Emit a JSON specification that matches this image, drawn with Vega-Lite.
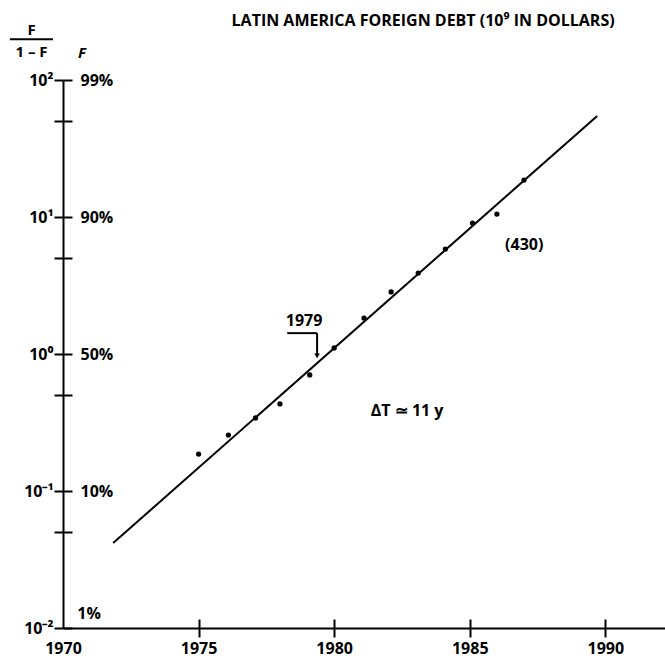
{
  "$schema": "https://vega.github.io/schema/vega-lite/v6.json",
  "width": 602,
  "height": 548,
  "autosize": {"type": "none"},
  "padding": {"left": 63, "top": 80, "right": 0, "bottom": 34},
  "background": "white",
  "config": {
    "view": {"stroke": null},
    "font": "Open Sans",
    "text": {"font": "Open Sans", "fontWeight": "bold", "fontSize": 15, "color": "black"}
  },
  "datasets": {
    "debt": [
      {"year": 1975.0, "value": 0.186},
      {"year": 1976.1, "value": 0.256},
      {"year": 1977.1, "value": 0.341},
      {"year": 1978.0, "value": 0.432},
      {"year": 1979.1, "value": 0.703},
      {"year": 1980.0, "value": 1.107},
      {"year": 1981.1, "value": 1.83},
      {"year": 1982.1, "value": 2.84},
      {"year": 1983.1, "value": 3.9},
      {"year": 1984.1, "value": 5.83},
      {"year": 1985.1, "value": 9.03},
      {"year": 1986.0, "value": 10.5},
      {"year": 1987.0, "value": 18.6}
    ],
    "fit": [
      {"year": 1971.85, "value": 0.0417},
      {"year": 1989.7, "value": 54.6}
    ],
    "one": [{}]
  },
  "layer": [
    {
      "data": {"name": "debt"},
      "mark": {"type": "circle", "size": 28, "color": "black", "opacity": 1},
      "encoding": {
        "x": {
          "field": "year", "type": "quantitative",
          "scale": {"domain": [1970, 1992.2], "nice": false, "zero": false},
          "axis": {
            "orient": "bottom", "values": [1970, 1975, 1980, 1985, 1990], "format": "d",
            "title": null, "grid": false,
            "domainColor": "black", "domainWidth": 2,
            "tickColor": "black", "tickWidth": 2, "tickSize": 9,
            "tickOpacity": {"condition": {"test": "datum.value == 1970", "value": 0}, "value": 1},
            "labelFontSize": 16, "labelFontWeight": "bold", "labelColor": "black", "labelFont": "Open Sans",
            "labelPadding": 3, "labelFlush": false, "labelOverlap": false
          }
        },
        "y": {
          "field": "value", "type": "quantitative",
          "scale": {"type": "log", "domain": [0.01, 100], "nice": false},
          "axis": {
            "orient": "left", "values": [0.01, 0.05, 0.1, 0.5, 1, 5, 10, 50, 100],
            "labelExpr": "datum.value == 100 ? '10²' : datum.value == 10 ? '10¹' : datum.value == 1 ? '10⁰' : datum.value == 0.1 ? '10⁻¹' : datum.value == 0.01 ? '10⁻²' : ''",
            "title": null, "grid": false,
            "domainColor": "black", "domainWidth": 2,
            "tickColor": "black", "tickWidth": 2, "tickSize": 9,
            "labelFontSize": 16, "labelFontWeight": "bold", "labelColor": "black", "labelFont": "Open Sans",
            "labelPadding": 1, "labelFlush": false, "labelOverlap": false
          }
        }
      }
    },
    {
      "data": {"name": "fit"},
      "mark": {"type": "line", "color": "black", "strokeWidth": 2},
      "encoding": {
        "x": {
          "field": "year", "type": "quantitative",
          "scale": {"domain": [1970, 1992.2], "nice": false, "zero": false},
          "axis": {
            "orient": "bottom", "offset": -9, "values": [1975, 1980, 1985, 1990],
            "labels": false, "domain": false, "title": null, "grid": false,
            "tickColor": "black", "tickWidth": 2, "tickSize": 9
          }
        },
        "y": {
          "field": "value", "type": "quantitative",
          "scale": {"type": "log", "domain": [0.01, 100], "nice": false},
          "axis": {
            "orient": "left", "offset": -9, "values": [0.01, 0.05, 0.1, 0.5, 1, 5, 10, 50, 100],
            "labelExpr": "datum.value == 100 ? '99%' : datum.value == 10 ? '90%' : datum.value == 1 ? '50%' : datum.value == 0.1 ? '10%' : ''",
            "labelAlign": "left", "labelPadding": -17,
            "domain": false, "title": null, "grid": false,
            "tickColor": "black", "tickWidth": 2, "tickSize": 9,
            "labelFontSize": 16, "labelFontWeight": "bold", "labelColor": "black", "labelFont": "Open Sans",
            "labelFlush": false, "labelOverlap": false
          }
        }
      }
    },
    {
      "data": {"name": "one"},
      "mark": {"type": "text", "text": "LATIN AMERICA FOREIGN DEBT (10⁹ IN DOLLARS)", "align": "center", "baseline": "middle", "fontSize": 16},
      "encoding": {
        "x": {"datum": 1983.28, "type": "quantitative", "axis": null},
        "y": {"datum": 270, "type": "quantitative", "axis": null}
      }
    },
    {
      "data": {"name": "one"},
      "mark": {"type": "text", "text": "1%", "align": "center", "baseline": "middle", "fontSize": 16},
      "encoding": {
        "x": {"datum": 1970.96, "type": "quantitative", "axis": null},
        "y": {"datum": 0.01265, "type": "quantitative", "axis": null}
      }
    },
    {
      "data": {"name": "one"},
      "mark": {"type": "text", "text": "F", "align": "center", "baseline": "middle"},
      "encoding": {
        "x": {"datum": 1968.84, "type": "quantitative", "axis": null},
        "y": {"datum": 232, "type": "quantitative", "axis": null}
      }
    },
    {
      "data": {"name": "one"},
      "mark": {"type": "rule", "color": "black", "strokeWidth": 2},
      "encoding": {
        "x": {"datum": 1968.04, "type": "quantitative", "axis": null},
        "x2": {"datum": 1969.63},
        "y": {"datum": 198, "type": "quantitative", "axis": null}
      }
    },
    {
      "data": {"name": "one"},
      "mark": {"type": "text", "text": "1 – F", "align": "center", "baseline": "middle"},
      "encoding": {
        "x": {"datum": 1968.84, "type": "quantitative", "axis": null},
        "y": {"datum": 160, "type": "quantitative", "axis": null}
      }
    },
    {
      "data": {"name": "one"},
      "mark": {"type": "text", "text": "F", "align": "center", "baseline": "middle", "fontStyle": "italic"},
      "encoding": {
        "x": {"datum": 1970.7, "type": "quantitative", "axis": null},
        "y": {"datum": 157, "type": "quantitative", "axis": null}
      }
    },
    {
      "data": {"name": "one"},
      "mark": {"type": "text", "text": "1979", "align": "center", "baseline": "middle", "fontSize": 16},
      "encoding": {
        "x": {"datum": 1978.89, "type": "quantitative", "axis": null},
        "y": {"datum": 1.74, "type": "quantitative", "axis": null}
      }
    },
    {
      "data": {"name": "one"},
      "mark": {"type": "rule", "color": "black", "strokeWidth": 2},
      "encoding": {
        "x": {"datum": 1978.27, "type": "quantitative", "axis": null},
        "x2": {"datum": 1979.37},
        "y": {"datum": 1.42, "type": "quantitative", "axis": null}
      }
    },
    {
      "data": {"name": "one"},
      "mark": {"type": "rule", "color": "black", "strokeWidth": 2},
      "encoding": {
        "x": {"datum": 1979.37, "type": "quantitative", "axis": null},
        "y": {"datum": 1.42, "type": "quantitative", "axis": null},
        "y2": {"datum": 1.0}
      }
    },
    {
      "data": {"name": "one"},
      "mark": {"type": "point", "shape": "triangle-down", "size": 30, "filled": true, "color": "black", "opacity": 1},
      "encoding": {
        "x": {"datum": 1979.37, "type": "quantitative", "axis": null},
        "y": {"datum": 0.97, "type": "quantitative", "axis": null}
      }
    },
    {
      "data": {"name": "one"},
      "mark": {"type": "text", "text": "ΔT ≃ 11 y", "align": "center", "baseline": "middle", "fontSize": 16},
      "encoding": {
        "x": {"datum": 1982.69, "type": "quantitative", "axis": null},
        "y": {"datum": 0.384, "type": "quantitative", "axis": null}
      }
    },
    {
      "data": {"name": "one"},
      "mark": {"type": "text", "text": "(430)", "align": "center", "baseline": "middle", "fontSize": 16},
      "encoding": {
        "x": {"datum": 1987.01, "type": "quantitative", "axis": null},
        "y": {"datum": 6.25, "type": "quantitative", "axis": null}
      }
    }
  ],
  "resolve": {"axis": {"x": "independent", "y": "independent"}}
}
